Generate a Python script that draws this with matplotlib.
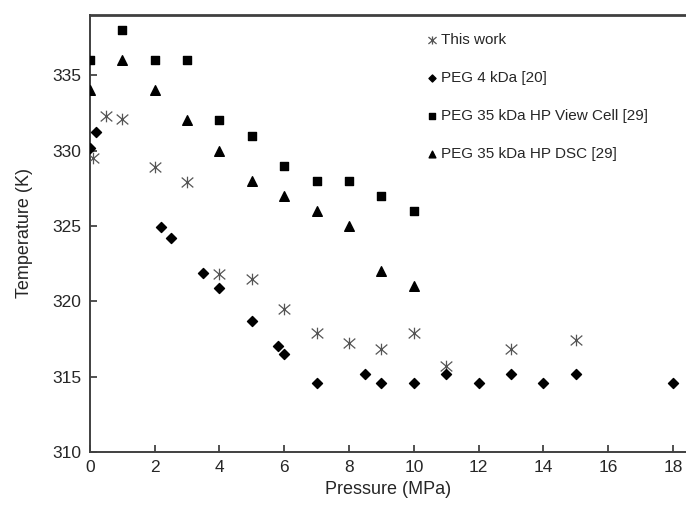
import matplotlib
matplotlib.use('Agg')
import matplotlib.pyplot as plt
from matplotlib.path import Path

plt.rcParams['font.family'] = ['Liberation Sans', 'DejaVu Sans']

# this work
p_this = [0.1, 0.5, 1, 2, 3, 4, 5, 6, 7, 8, 9, 10, 11, 13, 15]
t_this = [329.5, 332.3, 332.1, 328.9, 327.9, 321.8, 321.5, 319.5, 317.9, 317.2,
          316.8, 317.9, 315.7, 316.8, 317.4]

# PEG 4 kDa [20]
p_peg4 = [0, 0.2, 2.2, 2.5, 3.5, 4, 5, 5.8, 6, 7, 8.5, 9, 10, 11, 12, 13, 14, 15, 18]
t_peg4 = [330.2, 331.2, 324.9, 324.2, 321.9, 320.9, 318.7, 317.0, 316.5, 314.6,
          315.2, 314.6, 314.6, 315.2, 314.6, 315.2, 314.6, 315.2, 314.6]

# PEG 35 kDa HP View Cell [29]
p_view = [0, 1, 2, 3, 4, 5, 6, 7, 8, 9, 10]
t_view = [336, 338, 336, 336, 332, 331, 329, 328, 328, 327, 326]

# PEG 35 kDa HP DSC [29]
p_dsc = [0, 1, 2, 3, 4, 5, 6, 7, 8, 9, 10]
t_dsc = [334, 336, 334, 332, 330, 328, 327, 326, 325, 322, 321]

# excel-style star: an X with a vertical bar through it
star = Path([(-1, -0.85), (1, 0.85), (-1, 0.85), (1, -0.85), (0, -1), (0, 1)],
            [Path.MOVETO, Path.LINETO, Path.MOVETO, Path.LINETO,
             Path.MOVETO, Path.LINETO])

fig = plt.figure(figsize=(6.86, 5.17), dpi=100)
ax = fig.add_axes([0.131, 0.126, 0.869, 0.845])

ax.scatter(p_this, t_this, marker=star, s=70, color='#555555',
           linewidths=0.9, label='This work', zorder=3)
ax.scatter(p_peg4, t_peg4, marker='D', s=26, color='black',
           label='PEG 4 kDa [20]', zorder=3)
ax.scatter(p_view, t_view, marker='s', s=40, color='black',
           label='PEG 35 kDa HP View Cell [29]', zorder=3)
ax.scatter(p_dsc, t_dsc, marker='^', s=48, color='black',
           label='PEG 35 kDa HP DSC [29]', zorder=3)

ax.set_xlim(0, 18.4)
ax.set_ylim(310, 339)
ax.set_xticks(range(0, 19, 2))
ax.set_yticks(range(310, 336, 5))
ax.tick_params(direction='in', length=5, width=1.2, labelsize=12.5,
               colors='#333333', labelcolor='#262626', pad=6)

for side in ['left', 'bottom', 'top']:
    ax.spines[side].set_color('#404040')
    ax.spines[side].set_linewidth(1.4)
ax.spines['top'].set_linewidth(2)
ax.spines['right'].set_visible(False)

ax.set_xlabel('Pressure (MPa)', fontsize=13, color='#262626', labelpad=4)
ax.set_ylabel('Temperature (K)', fontsize=13, color='#262626', labelpad=14)

leg = ax.legend(loc='upper left', bbox_to_anchor=(0.545, 0.99), frameon=False,
                fontsize=11, handlelength=0.5, handletextpad=0.3,
                labelspacing=1.57, markerscale=0.7)
for txt in leg.get_texts():
    txt.set_color('#262626')

fig.savefig('out.png', dpi=100)
